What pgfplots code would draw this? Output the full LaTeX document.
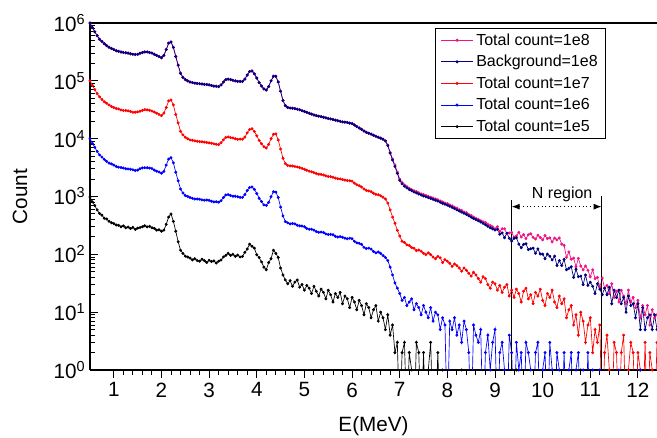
\documentclass[border=0pt]{standalone}
\usepackage{fontspec}
\setmainfont{Liberation Sans}
\usepackage{pgfplots}
\usepackage{pgfplotstable}
\pgfplotsset{compat=1.18}
\usetikzlibrary{arrows.meta}

\definecolor{cpink}{RGB}{240,20,130}
\definecolor{cnavy}{RGB}{0,0,128}
\definecolor{cred}{RGB}{255,0,0}
\definecolor{cblue}{RGB}{0,0,255}

% spectra, counts per bin (0.1 = empty bin, drawn below the axis)
\pgfplotstableread{
E     bg      tot     t7     t6    t5
0.50 1000000 1000000 100000 10000 980
0.55 832000 832000 83500 8300 810
0.60 708000 708000 70500 7100 700
0.65 603000 603000 60100 6000 585
0.70 525000 525000 52800 5240 510
0.75 479000 479000 47600 4810 475
0.80 437000 437000 43400 4380 420
0.85 407000 407000 40900 4050 408
0.90 380000 380000 38200 3780 372
0.95 363000 363000 36000 3660 352
1.00 347000 347000 34500 3490 340
1.05 331000 331000 33300 3300 322
1.10 324000 324000 32600 3210 318
1.15 316000 316000 31400 3180 300
1.20 309000 309000 30700 3110 310
1.25 305000 305000 30600 3020 288
1.30 302000 302000 30300 2990 296
1.35 295000 295000 29400 2970 280
1.40 288000 288000 28600 2900 292
1.45 285000 285000 28700 2820 270
1.50 288000 288000 29000 2860 284
1.55 299000 299000 29700 3010 290
1.60 309000 309000 30800 3120 300
1.65 316000 316000 31800 3150 312
1.70 316000 316000 31500 3140 298
1.75 309000 309000 31000 3100 305
1.80 302000 302000 30000 3040 288
1.85 288000 288000 28900 2860 281
1.90 275000 275000 27600 2740 262
1.95 263000 263000 26200 2650 266
2.00 251000 251000 25000 2530 250
2.05 275000 275000 27600 2720 262
2.10 347000 347000 34500 3490 330
2.15 447000 447000 44900 4440 440
2.20 468000 468000 46600 4700 500
2.25 380000 380000 38300 3830 372
2.30 263000 263000 26200 2620 250
2.35 186000 186000 18700 1870 165
2.40 135000 135000 13400 1350 118
2.45 115000 115000 11600 1150 104
2.50 105000 105000 10600 1040 93
2.55 100000 100000 9970 1000 90
2.60 95500 95500 9500 962 86
2.65 93300 93300 9380 930 80
2.70 91200 91200 9160 905 84
2.75 90200 90200 9000 906 78
2.80 89100 89100 8870 897 76
2.85 88100 88100 8850 874 82
2.90 87100 87100 8740 862 78
2.95 86100 86100 8580 868 72
3.00 85100 85100 8480 858 79
3.05 83200 83200 8340 826 75
3.10 81300 81300 8160 805 77
3.15 80400 80400 8000 812 71
3.20 79400 79400 7900 796 76
3.25 85100 85100 8540 848 80
3.30 95500 95500 9530 960 90
3.35 105000 105000 10500 1060 96
3.40 107000 107000 10700 1080 104
3.45 105000 105000 10400 1040 96
3.50 102000 102000 10300 1010 100
3.55 100000 100000 9960 1010 92
3.60 97700 97700 9730 990 97
3.65 97700 97700 9820 968 90
3.70 97700 97700 9800 965 92
3.75 107000 107000 10600 1080 108
3.80 126000 126000 12600 1270 124
3.85 145000 145000 14400 1430 150
3.90 148000 148000 14800 1460 138
3.95 132000 132000 13300 1330 128
4.00 112000 112000 11200 1130 98
4.05 93300 93300 9290 930 88
4.10 81300 81300 8160 820 74
4.15 72400 72400 7260 718 60
4.20 69200 69200 6900 702 54
4.25 79400 79400 7960 792 72
4.30 100000 100000 10000 990 84
4.35 120000 120000 11900 1210 118
4.40 120000 120000 12100 1190 104
4.45 95500 95500 9500 962 88
4.50 66100 66100 6620 656 58
4.55 45700 45700 4580 462 44
4.60 37200 37200 3720 369 36
4.65 34700 34700 3450 350 31
4.70 33900 33900 3380 335 35
4.75 33500 33500 3370 340 28
4.80 33100 33100 3300 336 33
4.85 32400 32400 3250 318 36
4.90 31600 31600 3150 311 27
4.95 30500 30500 3060 309 30
5.00 29500 29500 2960 300 24
5.05 28500 28500 2840 280 29
5.10 27500 27500 2740 271 26
5.15 26600 26600 2670 272 21
5.20 25700 25700 2590 262 28
5.25 25100 25100 2500 248 23
5.30 24500 24500 2430 240 19
5.35 24000 24000 2410 243 25
5.40 23400 23400 2360 238 22
5.45 22900 22900 2280 225 17
5.50 22400 22400 2220 220 24
5.55 21900 21900 2200 222 20
5.60 21400 21400 2150 218 15
5.65 20900 20900 2080 205 21
5.70 20400 20400 2030 200 18
5.75 20000 20000 2010 203 22
5.80 19500 19500 1960 198 14
5.85 19300 19300 1920 190 19
5.90 19100 19100 1890 186 17
5.95 18600 18600 1870 190 12
6.00 18200 18200 1840 186 18
6.05 17200 17200 1700 168 15
6.10 16200 16200 1600 158 11
6.15 15300 15300 1540 155 16
6.20 14500 14500 1460 149 13
6.25 13600 13600 1350 132 9
6.30 12900 12900 1280 126 14
6.35 12400 12400 1250 128 12
6.40 12000 12000 1210 123 8
6.45 11500 11500 1140 112 11
6.50 11000 11000 1090 106 13
6.55 10600 10600 1070 110 7
6.60 10200 10200 1030 104 10
6.65 9770 9770 970 95 8
6.70 9120 9120 905 88 5
6.75 7590 7800 770 78 9
6.80 5620 5800 585 60 4
6.85 4270 4450 440 44 6
6.90 3310 3500 345 32 2
6.95 2510 2640 260 26 3
7.00 1910 2000 207 21 0.1
7.05 1660 1740 168 16 2
7.10 1510 1580 161 18 3
7.15 1410 1480 146 13 0.1
7.20 1320 1390 142 15 2
7.25 1260 1320 131 17 1
7.30 1200 1260 127 11 0.1
7.35 1150 1210 116 14 3
7.40 1100 1160 119 12 2
7.45 1060 1110 113 9 0.1
7.50 1020 1080 104 13 2
7.55 989 1040 99 10 0.1
7.60 955 1010 106 8 1
7.65 923 970 99 12 3
7.70 891 945 90 7 0.1
7.75 861 905 84 10 0.1
7.80 832 880 92 9 2
7.85 794 835 87 5 0.1
7.90 759 805 72 8 1
7.95 733 770 81 6 0.1
8.00 708 752 76 0.1 0.1
8.05 676 712 70 7 0.1
8.10 646 690 62 5 0.1
8.15 617 650 68 8 0.1
8.20 589 630 64 4 0.1
8.25 562 592 58 6 0.1
8.30 537 575 51 3 1
8.35 513 540 58 7 0.1
8.40 490 525 53 5 0.1
8.45 462 488 47 2 0.1
8.50 437 470 42 0.1 0.1
8.55 417 440 49 6 0.1
8.60 398 417 44 4 0.1
8.65 380 402 38 3 0.1
8.70 363 380 33 5 0.1
8.75 343 366 41 0.1 0.1
8.80 324 355 38 2 0.1
8.85 305 330 30 4 0.1
8.90 288 316 26 1 0.1
8.95 275 300 33 3 0.1
9.00 263 277 31 5 0.1
9.05 271 300 24 0.1 0.1
9.10 223 248 29 2 0.1
9.15 234 277 22 3 0.1
9.20 193 276 27 1 0.1
9.25 232 227 30 0.1 0.1
9.30 189 234 19 4 0.1
9.35 169 240 24 2 0.1
9.40 189 197 18 0.1 0.1
9.45 193 208 25 3 1
9.50 150 240 21 1 0.1
9.55 130 199 15 2 0.1
9.60 149 219 23 0.1 0.1
9.65 152 187 26 3 0.1
9.70 121 218 17 2 0.1
9.75 125 227 20 1 0.1
9.80 128 196 14 0.1 0.1
9.85 104 184 22 2 0.1
9.90 124 214 19 3 0.1
9.95 101 195 25 0.1 0.1
10.00 101 178 16 1 0.1
10.05 84 212 13 2 0.1
10.10 101 187 21 0.1 0.1
10.15 93 193 18 3 0.1
10.20 80 164 24 1 0.1
10.25 93 191 15 0.1 0.1
10.30 64 178 12 2 0.1
10.35 78 192 19 1 0.1
10.40 64 150 14 0.1 0.1
10.45 82 143 17 2 0.1
10.50 54 89 8 0.1 0.1
10.55 57 110 11 1 0.1
10.60 61 82 13 2 0.1
10.65 40 86 6 0.1 0.1
10.70 55 61 9 1 0.1
10.75 41 85 4 2 0.1
10.80 42 63 10 0.1 1
10.85 30 54 7 1 0.1
10.90 44 63 3 0.1 0.1
10.95 29 53 6 2 0.1
11.00 33 41 8 0.1 0.1
11.05 28 54 2 1 0.1
11.10 21 38 5 0.1 0.1
11.15 31 40 3 0.1 0.1
11.20 25 27 6 1 0.1
11.25 20 39 0.1 0.1 0.1
11.30 26 26 2 0.1 0.1
11.35 20 29 4 0.1 0.1
11.40 27 21 1 0.1 0.1
11.45 14 31 0.1 0.1 0.1
11.50 24 18 3 0.1 0.1
11.55 18 23 2 0.1 0.1
11.60 24 15 0.1 1 0.1
11.65 14 24 2 0.1 0.1
11.70 18 19 4 0.1 0.1
11.75 10 14 0.1 0.1 0.1
11.80 19 24 1 0.1 0.1
11.85 13 15 3 0.1 0.1
11.90 14 18 2 0.1 0.1
11.95 8 12 0.1 0.1 0.1
12.00 14 16 2 0.1 0.1
12.05 5 8 1 1 0.1
12.10 12 13 0.1 0.1 0.1
12.15 5 9 3 0.1 0.1
12.20 8 13 0.1 0.1 0.1
12.25 9 6 2 0.1 0.1
12.30 5 11 1 0.1 0.1
12.35 9 8 0.1 0.1 0.1
12.40 5 9 3 0.1 0.1
}\spectra

\begin{document}
\begin{tikzpicture}
\begin{axis}[
    scale only axis, width=425.25pt, height=260.25pt,
    xmin=0.5, xmax=12.4, ymode=log, ymin=1, ymax=1e6,
    axis x line*=box, axis y line*=left,
    every outer x axis line/.append style={-},
    every outer y axis line/.append style={-},
    axis line style={line width=0.9pt},
    xtick={1,...,12}, minor x tick num=4,
    xtick pos=bottom, ytick pos=left,
    xtick align=outside, ytick align=inside,
    major tick length=6pt, minor tick length=3.75pt,
    every tick/.style={black, line width=0.7pt},
    ytick={1,10,100,1000,10000,100000,1000000},
    yticklabels={10\textsuperscript{0},10\textsuperscript{1},10\textsuperscript{2},10\textsuperscript{3},10\textsuperscript{4},10\textsuperscript{5},10\textsuperscript{6}},
    minor ytick={2,3,4,5,6,7,8,9,20,30,40,50,60,70,80,90,200,300,400,500,600,700,800,900,2000,3000,4000,5000,6000,7000,8000,9000,20000,30000,40000,50000,60000,70000,80000,90000,200000,300000,400000,500000,600000,700000,800000,900000},
    /pgf/number format/assume math mode=true,
    tick label style={font=\fontsize{15.5}{18}\selectfont},
    label style={font=\fontsize{15.5}{18}\selectfont},
    xlabel={E(MeV)}, ylabel={Count},
    x label style={at={(axis description cs:0.5,-0.161)}, anchor=center},
    y label style={at={(axis description cs:-0.1235,0.5)}, anchor=center},
    every axis plot/.append style={line width=0.5pt, mark=*, mark size=0.85pt},
    legend cell align=left,
    legend image code/.code={\draw[mark repeat=2,mark phase=2,#1] plot coordinates {(0pt,0pt) (12pt,0pt) (24pt,0pt)};},
    legend image post style={line width=0.8pt, mark size=0.7pt},
    legend style={at={(0.91,0.986)}, anchor=north east,
        font=\fontsize{12}{14}\selectfont, row sep=2pt, inner xsep=4pt},
]
\addplot[cpink] table[x=E, y=tot] {\spectra};
\addlegendentry{Total count=1e8}
\addplot[cnavy] table[x=E, y=bg] {\spectra};
\addlegendentry{Background=1e8}
\addplot[cred] table[x=E, y=t7] {\spectra};
\addlegendentry{Total count=1e7}
\addplot[cblue] table[x=E, y=t6] {\spectra};
\addlegendentry{Total count=1e6}
\addplot[black] table[x=E, y=t5] {\spectra};
\addlegendentry{Total count=1e5}

\draw[line width=0.8pt] (axis cs:9.35,1) -- (axis cs:9.35,870);
\draw[line width=0.8pt] (axis cs:11.24,1) -- (axis cs:11.24,1000);
\draw[dotted, line width=0.8pt, {Latex[length=6pt,width=4.5pt]}-{Latex[length=6pt,width=4.5pt]}]
    (axis cs:9.35,667) -- (axis cs:11.24,667);
\node[font=\fontsize{12}{14}\selectfont] at (axis cs:10.41,1070) {N region};
\end{axis}
\pgfresetboundingbox
\path[use as bounding box] (-67.5pt,-51pt) rectangle (425.25pt,277.5pt);
\end{tikzpicture}
\end{document}
